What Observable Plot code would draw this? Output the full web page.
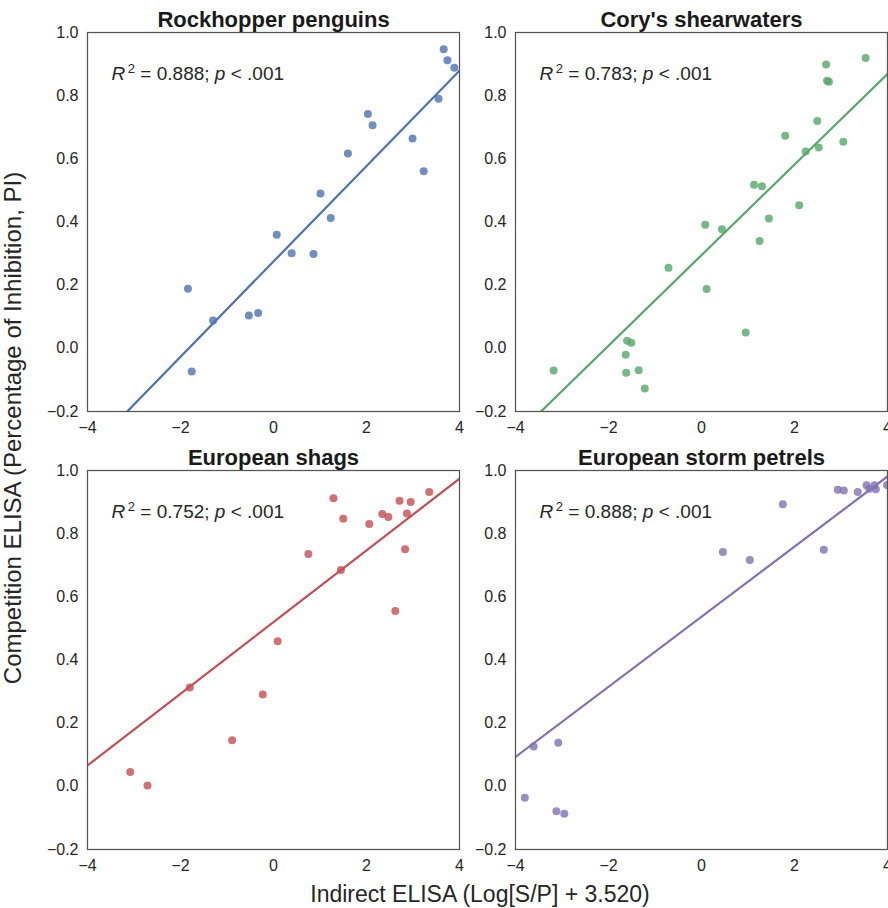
<!DOCTYPE html>
<html>
<head>
<meta charset="utf-8">
<script src="https://cdn.jsdelivr.net/npm/d3@7"></script>
<script src="https://cdn.jsdelivr.net/npm/@observablehq/plot@0.6"></script>
<style>
  html, body { margin: 0; padding: 0; background: #fff; }
  #wrap { position: relative; width: 888px; height: 908px; overflow: hidden; background: #fff;
          font-family: "Liberation Sans", Arial, sans-serif; color: #262626; }
  .cell { position: absolute; width: 470px; height: 440px; }
  .ylab { position: absolute; left: 13px; top: 428px; white-space: nowrap; font-size: 24px;
          transform: translate(-50%, -50%) rotate(-90deg); color: #262626; }
  .xlab { position: absolute; left: 480px; top: 894px; white-space: nowrap; font-size: 23px;
          transform: translate(-50%, -50%); color: #262626; }
</style>
</head>
<body>
<div id="wrap">
  <div class="cell" id="p0" style="left:0px;top:0px"></div>
  <div class="cell" id="p1" style="left:428px;top:0px"></div>
  <div class="cell" id="p2" style="left:0px;top:438px"></div>
  <div class="cell" id="p3" style="left:428px;top:438px"></div>
  <div class="ylab">Competition ELISA (Percentage of Inhibition, PI)</div>
  <div class="xlab">Indirect ELISA (Log[S/P] + 3.520)</div>
</div>
<script>
const species = ["Rockhopper penguins", "Cory's shearwaters", "European shags", "European storm petrels"];
const colors = ["#4C72B0", "#55A868", "#C44E52", "#8172B2"];
const r2Values = ["0.888", "0.783", "0.752", "0.888"];
const pValues = ["< .001", "< .001", "< .001", "< .001"];
const fitSlope = [0.151, 0.1434, 0.1135, 0.111];
const fitIntercept = [0.275, 0.295, 0.520, 0.537];

const rockhopperX = [3.66, 3.74, 3.89, 3.55, 2.03, 2.13, 2.99, 1.60, 3.23, 1.01, 1.23, 0.07, 0.39, 0.86, -1.84, -1.30, -0.53, -0.33, -1.76];
const rockhopperY = [0.947, 0.912, 0.888, 0.790, 0.742, 0.706, 0.664, 0.617, 0.561, 0.490, 0.413, 0.360, 0.301, 0.299, 0.189, 0.088, 0.104, 0.112, -0.073];

const shearwaterX = [3.53, 2.68, 2.70, 2.74, 2.49, 1.80, 3.05, 2.52, 2.24, 1.13, 1.30, 2.10, 1.45, 0.08, 0.44, 1.25, -0.71, 0.11, 0.95, -1.60, -1.51, -1.63, -3.18, -1.62, -1.35, -1.22];
const shearwaterY = [0.919, 0.899, 0.847, 0.844, 0.720, 0.673, 0.654, 0.636, 0.623, 0.518, 0.513, 0.453, 0.411, 0.391, 0.377, 0.340, 0.255, 0.188, 0.050, 0.024, 0.018, -0.020, -0.070, -0.077, -0.069, -0.127];

const shagX = [3.35, 1.29, 2.71, 2.95, 2.34, 2.47, 2.87, 1.50, 2.06, 0.75, 2.83, 1.45, 2.62, 0.09, -1.80, -0.23, -0.89, -3.08, -2.71];
const shagY = [0.932, 0.912, 0.904, 0.900, 0.862, 0.853, 0.864, 0.847, 0.831, 0.736, 0.751, 0.685, 0.555, 0.459, 0.313, 0.291, 0.146, 0.045, 0.003];

const petrelX = [2.93, 3.06, 3.36, 3.55, 3.61, 3.72, 3.75, 3.99, 1.75, 0.46, 1.04, 2.63, -3.61, -3.08, -3.80, -3.12, -2.95];
const petrelY = [0.939, 0.937, 0.932, 0.953, 0.942, 0.953, 0.941, 0.954, 0.893, 0.742, 0.717, 0.749, 0.126, 0.138, -0.036, -0.079, -0.087];

const xTicks = [-4, -2, 0, 2, 4];
const yTicks = [-0.2, 0.0, 0.2, 0.4, 0.6, 0.8, 1.0];
const xDomain = [-4, 4];
const yDomain = [-0.2, 1.0];

const seriesX = [rockhopperX, shearwaterX, shagX, petrelX];
const seriesY = [rockhopperY, shearwaterY, shagY, petrelY];

function panel(i) {
  const pts = seriesX[i].map((x, k) => ({x, y: seriesY[i][k]}));
  const fit = xDomain.map(x => ({x, y: fitIntercept[i] + fitSlope[i] * x}));
  const label = `R2 = ${r2Values[i]}; p ${pValues[i]}`;
  const svg = Plot.plot({
    width: 470, height: 440,
    marginLeft: 87, marginRight: 11, marginTop: 32, marginBottom: 29,
    style: {background: "transparent", fontFamily: "'Liberation Sans', Arial, sans-serif", fontSize: "16px", color: "#262626", overflow: "visible"},
    x: {domain: xDomain, ticks: xTicks, tickFormat: d3.format("d"), tickSize: 0, tickPadding: 10, label: null},
    y: {domain: yDomain, ticks: yTicks, tickFormat: d3.format(".1f"), tickSize: 0, tickPadding: 9, label: null},
    marks: [
      Plot.line(fit, {x: "x", y: "y", stroke: colors[i], strokeWidth: 2.2, clip: true}),
      Plot.dot(pts, {x: "x", y: "y", r: 4, fill: colors[i], fillOpacity: 0.8, stroke: "none", clip: true}),
      Plot.frame({stroke: "#555", strokeWidth: 1.25}),
      Plot.text([species[i]], {text: d => d, frameAnchor: "top", dy: -5.5, lineAnchor: "bottom", fontSize: 22, fontWeight: "bold", fill: "#1a1a1a"}),
      Plot.text([label], {text: d => d, frameAnchor: "top-left", dx: 24, dy: 41, textAnchor: "start", lineAnchor: "middle", fontSize: 19, fill: "#262626"})
    ]
  });
  // rich formatting of the R² label (italic R and p, superscript 2)
  const NS = "http://www.w3.org/2000/svg";
  svg.querySelectorAll("text").forEach(t => {
    if (t.textContent === label) {
      while (t.firstChild) t.removeChild(t.firstChild);
      const parts = [
        {s: "R", italic: true},
        {s: "\u20092", sup: true},
        {s: " = " + r2Values[i] + "; ", down: true},
        {s: "p", italic: true},
        {s: " " + pValues[i]}
      ];
      parts.forEach(p => {
        const ts = document.createElementNS(NS, "tspan");
        ts.textContent = p.s;
        if (p.italic) ts.setAttribute("font-style", "italic");
        if (p.sup) { ts.setAttribute("font-size", "13"); ts.setAttribute("dy", "-7"); }
        if (p.down) ts.setAttribute("dy", "7");
        t.appendChild(ts);
      });
    }
  });
  return svg;
}

for (let i = 0; i < 4; i++) {
  document.getElementById("p" + i).appendChild(panel(i));
}
</script>
</body>
</html>
